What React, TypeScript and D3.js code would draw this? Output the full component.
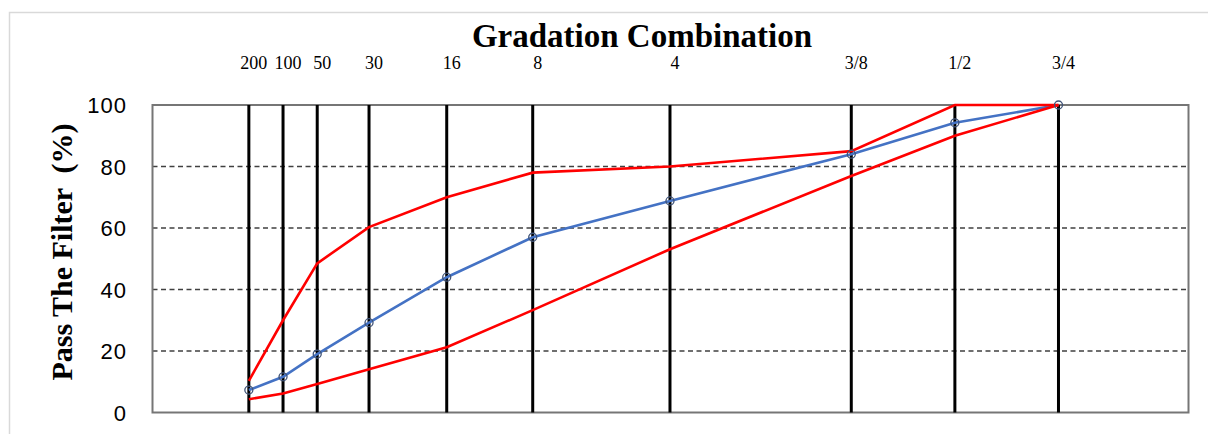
import React from "react";
import * as d3 from "d3";

// Sieve designations (top labels) and their positions on the chart's horizontal axis (0–100 units)
const sieveLabels = ["200", "100", "50", "30", "16", "8", "4", "3/8", "1/2", "3/4"];
const sievePos = [9.3, 12.6, 15.9, 20.9, 28.4, 36.7, 49.95, 67.45, 77.45, 87.45];

// Percent passing
const blendPassing = [7.3, 11.6, 19, 29.2, 44, 57, 68.8, 84, 94.2, 100];
const upperLimit = [10.3, 30, 48.5, 60.3, 70, 78, 80, 85, 100, 100];
const lowerLimit = [4.3, 6.2, 9.3, 14.1, 21.2, 33.3, 53.1, 76.9, 90, 100];

const yTicks = [0, 20, 40, 60, 80, 100];
const gridTicks = [20, 40, 60, 80];

const W = 1208;
const H = 434;
const plot = { left: 152.5, right: 1188.5, top: 105, bottom: 412.5 };

export default function App() {
  const x = d3.scaleLinear().domain([0, 100]).range([plot.left, plot.right]);
  const y = d3.scaleLinear().domain([0, 100]).range([plot.bottom, plot.top]);

  const line = d3
    .line<number>()
    .x((_, i) => x(sievePos[i]))
    .y((d) => y(d));

  return (
    <svg
      width={W}
      height={H}
      viewBox={`0 0 ${W} ${H}`}
      style={{ position: "absolute", left: 0, top: 0, background: "#fff" }}
    >
      {/* outer chart frame */}
      <rect x={9.5} y={12.5} width={W + 20} height={H + 20} fill="#fff" stroke="#d9d9d9" strokeWidth={1.5} />

      {/* title */}
      <text
        x={642}
        y={46.5}
        textAnchor="middle"
        fontFamily="'Liberation Serif', 'Times New Roman', serif"
        fontWeight="bold"
        fontSize={33}
        fill="#000"
      >
        Gradation Combination
      </text>

      {/* dashed gridlines */}
      {gridTicks.map((t) => (
        <line
          key={"g" + t}
          x1={plot.left}
          x2={plot.right}
          y1={y(t)}
          y2={y(t)}
          stroke="#404040"
          strokeWidth={1.4}
          strokeDasharray="5 3.5"
        />
      ))}

      {/* plot border */}
      <rect
        x={plot.left}
        y={plot.top}
        width={plot.right - plot.left}
        height={plot.bottom - plot.top}
        fill="none"
        stroke="#767676"
        strokeWidth={2}
      />

      {/* sieve vertical lines */}
      {sievePos.map((p, i) => (
        <line
          key={"v" + i}
          x1={x(p)}
          x2={x(p)}
          y1={plot.top}
          y2={plot.bottom}
          stroke="#000"
          strokeWidth={3}
        />
      ))}

      {/* sieve labels */}
      {sievePos.map((p, i) => (
        <text
          key={"sl" + i}
          x={x(p) + 5}
          y={69}
          textAnchor="middle"
          fontFamily="'Liberation Serif', 'Times New Roman', serif"
          fontSize={18}
          fill="#000"
        >
          {sieveLabels[i]}
        </text>
      ))}

      {/* y tick labels */}
      {yTicks.map((t) => (
        <text
          key={"yt" + t}
          x={127}
          y={y(t) + 8}
          textAnchor="end"
          fontFamily="'Liberation Sans', Arial, sans-serif"
          fontSize={22}
          letterSpacing={1}
          fill="#000"
        >
          {t}
        </text>
      ))}

      {/* y axis title */}
      <text
        transform={`translate(72, 252) rotate(-90)`}
        textAnchor="middle"
        fontFamily="'Liberation Serif', 'Times New Roman', serif"
        fontWeight="bold"
        fontSize={30}
        fill="#000"
        style={{ whiteSpace: "pre" }}
      >
        {"Pass The Filter  (%)"}
      </text>

      {/* blend line */}
      <path d={line(blendPassing) || ""} fill="none" stroke="#4472c4" strokeWidth={2.6} />

      {/* specification limits */}
      <path d={line(upperLimit) || ""} fill="none" stroke="#ff0000" strokeWidth={2.6} />
      <path d={line(lowerLimit) || ""} fill="none" stroke="#ff0000" strokeWidth={2.6} />

      {/* blend markers */}
      {blendPassing.map((v, i) => (
        <circle
          key={"m" + i}
          cx={x(sievePos[i])}
          cy={y(v)}
          r={4}
          fill="none"
          stroke="#3f5378"
          strokeWidth={1.3}
        />
      ))}
    </svg>
  );
}
